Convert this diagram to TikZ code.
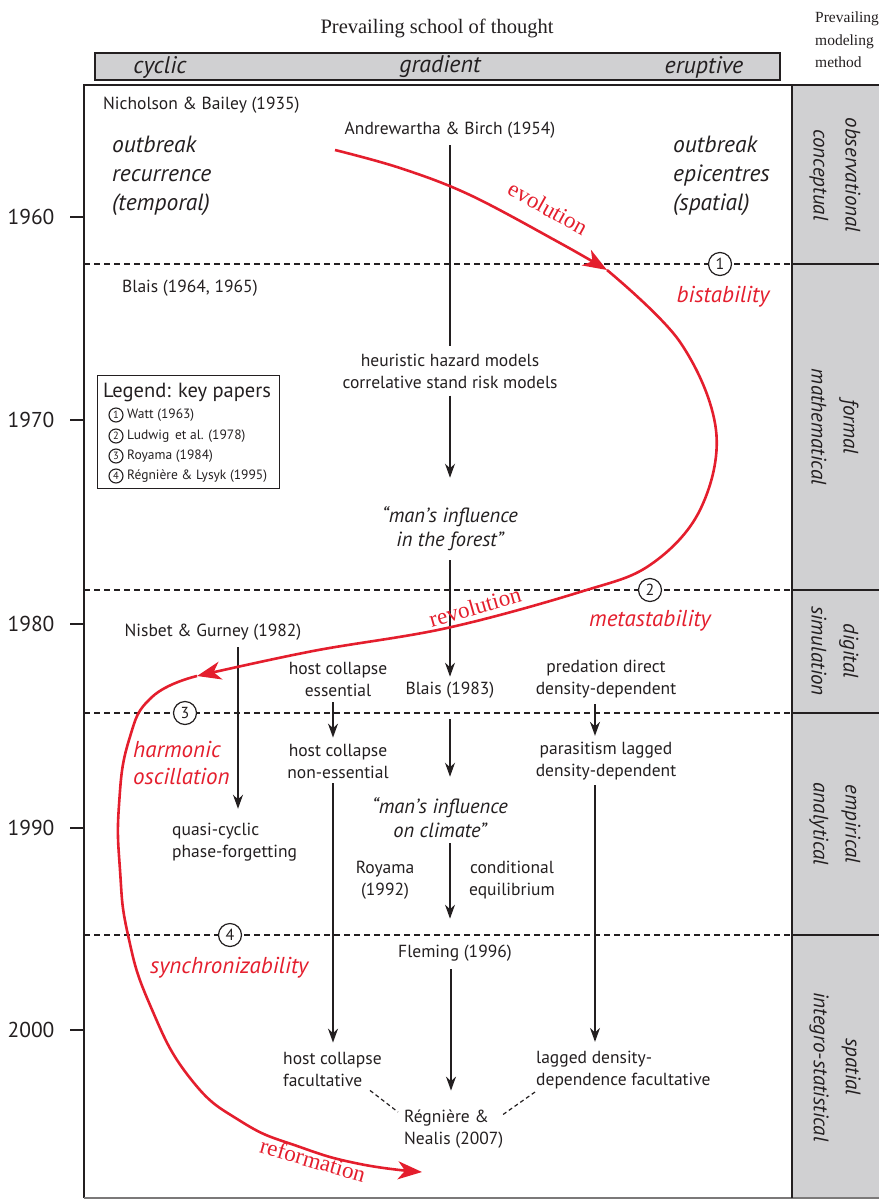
\documentclass[tikz,border=0pt]{standalone}
\usepackage{fontspec}
\setmainfont{PT Sans}
\newfontfamily\serifx{Liberation Serif}
\usetikzlibrary{arrows.meta,calc}
\definecolor{redc}{RGB}{228,30,45}
\definecolor{grayc}{RGB}{208,208,210}
\definecolor{ink}{RGB}{35,31,32}
\begin{document}
\begin{tikzpicture}[x=1pt,y=-1pt,
  txt/.style={font=\fontsize{17.5}{22}\selectfont, align=center, inner sep=0pt, text=ink},
  itx/.style={font=\fontsize{20.5}{24}\selectfont\itshape, align=center, inner sep=0pt, text=ink},
  big/.style={font=\fontsize{23.5}{29}\selectfont\itshape, align=left, inner sep=0pt, text=ink},
  redit/.style={font=\fontsize{23}{27}\selectfont\itshape, align=left, inner sep=0pt, text=redc},
  redser/.style={font=\serifx\fontsize{23}{25}\selectfont, inner sep=0pt, text=redc},
  meth/.style={font=\fontsize{21}{32}\selectfont\itshape, align=center, inner sep=0pt, rotate=-90, text=ink},
  yr/.style={font=\fontsize{21.5}{24}\selectfont, inner sep=0pt, text=ink},
  arr/.style={-{Stealth[length=14pt,width=10pt]}, line width=1.3pt, draw=ink},
  ln/.style={line width=1.3pt, draw=ink},
  redarr/.style={-{Stealth[length=24pt,width=18pt,inset=7pt]}, line width=2.6pt, draw=redc},
  dsh/.style={dash pattern=on 6pt off 4pt, line width=1.2pt, draw=ink},
  dot/.style={dash pattern=on 4pt off 3pt, line width=1.2pt, draw=ink},
  circ/.style={circle, draw=ink, fill=white, line width=1.2pt, minimum size=23pt, inner sep=0pt, font=\fontsize{16}{16}\selectfont, text=ink},
  lcirc/.style={circle, draw=ink, line width=1.1pt, minimum size=14pt, inner sep=0pt, font=\fontsize{10.5}{10.5}\selectfont, text=ink},
  ltxt/.style={font=\fontsize{13.5}{14}\selectfont, inner sep=0pt, anchor=west, text=ink},
  bar/.style={font=\fontsize{24}{24}\selectfont\itshape, inner sep=0pt, text=ink},
]
\useasboundingbox (0,0) rectangle (879,1200);
% headers
\node[font=\serifx\fontsize{20.5}{22}\selectfont, text=ink, inner sep=0pt] (hdr) at (437,28) {Prevailing school of thought};
\node[font=\serifx\fontsize{15.5}{22.5}\selectfont, align=left, anchor=north west, inner sep=0pt, text=ink] (mhdr) at (815,12) {Prevailing\\modeling\\method};
\draw[fill=grayc, draw=ink, line width=1.4pt] (95,53) rectangle (780,80);
\node[bar] (cyc) at (160,67) {cyclic};
\node[bar] (grad) at (440,67) {gradient};
\node[bar] (erup) at (704,67) {eruptive};
% frame and method column
\fill[grayc] (792,85) rectangle (879,1198);
\draw[line width=1.4pt, draw=ink] (84,1198) -- (84,85) -- (879,85);
\draw[line width=1.2pt, draw=ink!60] (84,1198) -- (879,1198);
\draw[line width=1.4pt, draw=ink] (792,85) -- (792,1198);
\foreach \yy in {264,590,713,935} {
  \draw[line width=1.2pt, draw=ink] (792,\yy) -- (879,\yy);
  \draw[dsh] (84,\yy) -- (792,\yy);
}
\node[meth] (m1) at (835,175) {observational\\conceptual};
\node[meth] (m2) at (835,427) {formal\\mathematical};
\node[meth] (m3) at (835,651) {digital\\simulation};
\node[meth] (m4) at (835,824) {empirical\\analytical};
\node[meth] (m5) at (835,1067) {spatial\\integro-statistical};
% years
\foreach \yv/\yy in {1960/217,1970/420,1980/624,1990/828,2000/1030} {
  \node[yr] (y\yv) at (31,\yy) {\yv};
  \draw[line width=1.2pt, draw=ink] (70,\yy) -- (84,\yy);
}
% circled key numbers
\node[circ] (k1) at (720,264) {1};
\node[circ] (k2) at (650,590) {2};
\node[circ] (k3) at (185,713) {3};
\node[circ] (k4) at (230,935) {4};
% legend
\node[draw=ink, line width=1.2pt, minimum width=182pt, minimum height=113pt, anchor=north west, inner sep=0pt] (leg) at (97,375) {};
\node[font=\fontsize{20.5}{21}\selectfont, inner sep=0pt, text=ink] (legt) at (187,392) {Legend: key papers};
\node[lcirc] (l1) at (116,415) {1}; \node[ltxt] (lt1) at (127,415) {Watt (1963)};
\node[lcirc] (l2) at (116,436) {2}; \node[ltxt] (lt2) at (127,436) {Ludwig\, et al. (1978)};
\node[lcirc] (l3) at (116,456) {3}; \node[ltxt] (lt3) at (127,456) {Royama (1984)};
\node[lcirc] (l4) at (116,476) {4}; \node[ltxt] (lt4) at (127,476) {Régnière \& Lysyk (1995)};
% texts
\node[txt, anchor=west] (nich) at (103,105) {Nicholson \& Bailey (1935)};
\node[txt] (andr) at (450,130) {Andrewartha \& Birch (1954)};
\node[big, anchor=west] (recur) at (112,176) {outbreak\\recurrence\\(temporal)};
\node[big, anchor=west] (epi) at (673,176) {outbreak\\epicentres\\(spatial)};
\node[txt, anchor=west] (bl64) at (122,288) {Blais (1964, 1965)};
\node[txt] (heur) at (450,371) {heuristic hazard models\\correlative stand risk models};
\node[itx] (forest) at (450,529) {“man’s influence\\in the forest”};
\node[txt] (nisb) at (213,632) {Nisbet \& Gurney (1982)};
\node[txt] (hce) at (338,679) {host collapse\\essential};
\node[txt] (bl83) at (450,690) {Blais (1983)};
\node[txt] (pred) at (606,679) {predation direct\\density-dependent};
\node[txt] (hcn) at (338,761) {host collapse\\non-essential};
\node[txt] (para) at (606,761) {parasitism lagged\\density-dependent};
\node[itx] (clim) at (440,818) {“man’s influence\\on climate”};
\node[txt, align=left, anchor=west] (quasi) at (172,842) {quasi-cyclic\\phase-forgetting};
\node[txt] (roy) at (385,880) {Royama\\(1992)};
\node[txt] (cond) at (512,880) {conditional\\equilibrium};
\node[txt] (flem) at (455,953) {Fleming (1996)};
\node[txt, align=left, anchor=west] (hcf) at (283,1069) {host collapse\\facultative};
\node[txt, align=left, anchor=west] (ldf) at (536,1070) {lagged density-\\dependence facultative};
\node[txt, align=left, anchor=west] (reg) at (404,1129) {Régnière \&\\Nealis (2007)};
% black connectors
\draw[ln] ($(andr.south)+(0,7)$) -- ($(heur.north)+(0,-8)$);
\draw[arr] ($(heur.south)+(0,7)$) -- ($(forest.north)+(0,-29)$);
\draw[arr] ($(forest.south)+(0,9)$) -- ($(bl83.north)+(0,-5)$);
\draw[arr] ($(bl83.south)+(0,21)$) -- ($(bl83.south |- clim.north)+(0,-21)$);
\draw[arr] ($(bl83.south |- clim.south)+(0,5)$) -- ($(bl83.south |- flem.north)+(0,-26)$);
\draw[arr] ($(flem.south)+(-4,8)$) -- ($(flem.south |- reg.north)+(-4,-19)$);
\draw[arr] ($(nisb.south)+(25,7)$) -- ($(nisb.south |- quasi.north)+(25,-14)$);
\draw[arr] ($(hce.south)+(-5,6)$) -- ($(hcn.north)+(-5,-6)$);
\draw[arr] ($(pred.south)+(-11,6)$) -- ($(para.north)+(-11,-6)$);
\draw[arr] ($(hcn.south)+(-5,5)$) -- ($(hcn.south |- hcf.north)+(-5,-9)$);
\draw[arr] ($(para.south)+(-11,5)$) -- ($(para.south |- ldf.north)+(-11,-9)$);
\draw[dot] ($(hcf.south west)+(87,4)$) -- ($(reg.west)+(-6,-17)$);
\draw[dot] ($(ldf.west)+(-1,22)$) -- ($(reg.north east)+(-2,6)$);
% red curve
\coordinate (r0) at (335,150);
\coordinate (r1) at (607,270);
\coordinate (r2) at (197,676);
\coordinate (r3) at (422,1172);
\draw[redarr] plot[smooth, tension=0.6] coordinates {(r0) (400,168) (470,195) (560,243) (r1)};
\draw[redarr] plot[smooth, tension=0.6] coordinates {(r1) (680,342) (716,430) (700,510) (650,565) (580,592) (447,628) (313,651) (r2)};
\draw[redarr] plot[smooth, tension=0.8] coordinates {(r2) (152,697) (129,740) (119,805) (120,870) (128,935) (150,1005) (190,1078) (242,1122) (300,1147) (360,1164) (r3)};
\node[redser, rotate=-29] (evo) at (548,208) {evolution};
\node[redser, rotate=16] (revo) at (475,607) {revolution};
\node[redser, rotate=-16] (refo) at (313,1160) {reformation};
\node[redit] (bist) at (723,297) {bistability};
\node[redit] (meta) at (650,621) {metastability};
\node[redit, anchor=west] (harm) at (133,763) {harmonic\\oscillation};
\node[redit, anchor=west] (sync) at (150,968) {synchronizability};
\end{tikzpicture}
\end{document}
